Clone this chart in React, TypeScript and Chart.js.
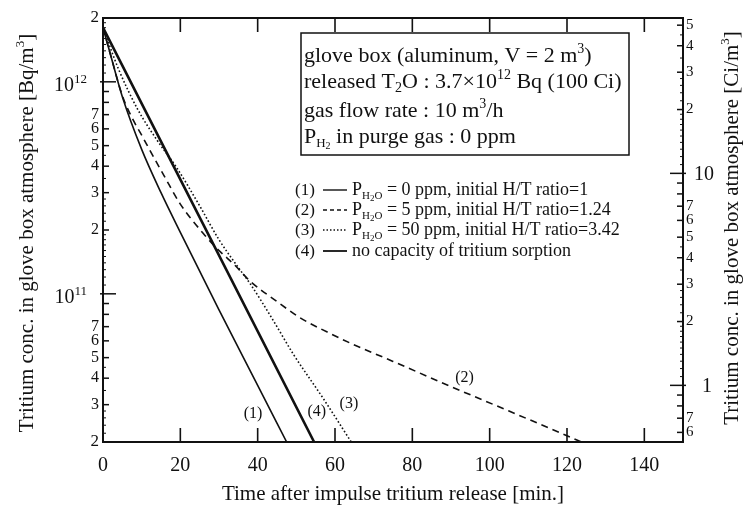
import React, { useEffect, useRef } from 'react';
import { Chart, registerables } from 'chart.js';

Chart.register(...registerables);

const SERIF = '"Liberation Serif", "Times New Roman", serif';
const BQ_PER_CI = 3.7e10;

// (1) P_H2O = 0 ppm
const curve1Time = [0, 2, 5, 10, 15, 20, 30, 40, 47.5];
const curve1Conc = [1.8e12, 1.33e12, 8.5e11, 4.8e11, 3.0e11, 1.95e11, 8.4e10, 3.7e10, 2.0e10];
// (2) P_H2O = 5 ppm
const curve2Time = [0, 2, 5, 8, 10, 12, 16, 20, 26, 30, 34, 38, 45, 51, 58, 64, 75, 90, 105, 115.5, 123.7];
const curve2Conc = [1.8e12, 1.33e12, 8.6e11, 6.5e11, 5.6e11, 4.8e11, 3.55e11, 2.65e11, 1.92e11, 1.6e11, 1.37e11, 1.15e11, 9.2e10, 7.7e10, 6.6e10, 5.85e10, 4.8e10, 3.65e10, 2.8e10, 2.32e10, 2.0e10];
// (3) P_H2O = 50 ppm
const curve3Time = [0, 4, 9, 14, 19, 25, 30, 35, 38, 44, 49.2, 57, 64.2];
const curve3Conc = [1.8e12, 1.15e12, 7.4e11, 5.3e11, 3.95e11, 2.6e11, 1.8e11, 1.33e11, 1.12e11, 7.5e10, 5.2e10, 3.2e10, 2.0e10];
// (4) no capacity of tritium sorption
const curve4Time = [0, 54.6];
const curve4Conc = [1.8e12, 2.0e10];

const xMin = 0;
const xMax = 150;
const yMin = 2e10;
const yMax = 2e12;

const xTickValues = [0, 20, 40, 60, 80, 100, 120, 140];
const leftLabeledTicks = [2e12, 1e12, 7e11, 6e11, 5e11, 4e11, 3e11, 2e11, 1e11, 7e10, 6e10, 5e10, 4e10, 3e10, 2e10];
const rightLabeledTicks = [50, 40, 30, 20, 10, 7, 6, 5, 4, 3, 2, 1, 0.7, 0.6];
const minorMantissas = [1.1, 1.2, 1.3, 1.4, 1.5, 1.6, 1.7, 1.8, 1.9, 2.2, 2.4, 2.6, 2.8, 3.5, 4.5];
const midMantissas = [2, 3, 4, 5, 6, 7, 8, 9];

const curveLabels = ['(1)', '(2)', '(3)', '(4)'];
const curveLabelTime = [38.8, 93.5, 63.6, 55.3];
const curveLabelConc = [2.73e10, 4.0e10, 3.04e10, 2.79e10];

const xTitle = 'Time after impulse tritium release [min.]';
const leftTitle = 'Tritium conc. in glove box atmosphere [Bq/m';
const rightTitle = 'Tritium conc. in glove box atmosphere [Ci/m';

type Run = { t: string; s: number; dy?: number };

const boxLines: Run[][] = [
  [{ t: 'glove box (aluminum, V = 2 m', s: 22 }, { t: '3', s: 14, dy: -9 }, { t: ')', s: 22 }],
  [{ t: 'released T', s: 22 }, { t: '2', s: 14, dy: 4 }, { t: 'O : 3.7×10', s: 22 }, { t: '12', s: 14, dy: -9 }, { t: ' Bq (100 Ci)', s: 22 }],
  [{ t: 'gas flow rate : 10 m', s: 22 }, { t: '3', s: 14, dy: -9 }, { t: '/h', s: 22 }],
  [{ t: 'P', s: 22 }, { t: 'H', s: 13, dy: 4 }, { t: '2', s: 10, dy: 6 }, { t: ' in purge gas : 0 ppm', s: 22 }],
];

const legendNums = ['(1)', '(2)', '(3)', '(4)'];
const legendDash: number[][] = [[], [4, 3], [1.5, 2], []];
const legendWidth = [1.4, 1.4, 1.4, 1.8];
const legendTexts: Run[][] = [
  [{ t: 'P', s: 18 }, { t: 'H', s: 11, dy: 4 }, { t: '2', s: 9, dy: 6 }, { t: 'O', s: 11, dy: 4 }, { t: ' = 0 ppm, initial H/T ratio=1', s: 18 }],
  [{ t: 'P', s: 18 }, { t: 'H', s: 11, dy: 4 }, { t: '2', s: 9, dy: 6 }, { t: 'O', s: 11, dy: 4 }, { t: ' = 5 ppm, initial H/T ratio=1.24', s: 18 }],
  [{ t: 'P', s: 18 }, { t: 'H', s: 11, dy: 4 }, { t: '2', s: 9, dy: 6 }, { t: 'O', s: 11, dy: 4 }, { t: ' = 50 ppm, initial H/T ratio=3.42', s: 18 }],
  [{ t: 'no capacity of tritium sorption', s: 18 }],
];

function drawRuns(ctx: CanvasRenderingContext2D, x: number, y: number, runs: Run[]) {
  let cx = x;
  ctx.textAlign = 'left';
  ctx.textBaseline = 'alphabetic';
  for (const r of runs) {
    ctx.font = `${r.s}px ${SERIF}`;
    ctx.fillText(r.t, cx, y + (r.dy || 0));
    cx += ctx.measureText(r.t).width;
  }
  return cx;
}

function runsWidth(ctx: CanvasRenderingContext2D, runs: Run[]) {
  let w = 0;
  for (const r of runs) {
    ctx.font = `${r.s}px ${SERIF}`;
    w += ctx.measureText(r.t).width;
  }
  return w;
}

const toPoints = (t: number[], v: number[]) => t.map((x, i) => ({ x, y: v[i] }));

const decorPlugin = {
  id: 'decor',
  afterDraw(chart: any) {
    const ctx: CanvasRenderingContext2D = chart.ctx;
    const { left, right, top, bottom } = chart.chartArea;
    const xs = chart.scales.x;
    const ys = chart.scales.y;
    const y2 = chart.scales.y2;
    ctx.save();
    ctx.strokeStyle = '#111';
    ctx.fillStyle = '#111';
    ctx.setLineDash([]);

    // frame
    ctx.lineWidth = 2;
    ctx.strokeRect(left, top, right - left, bottom - top);

    // x ticks & labels
    ctx.lineWidth = 1.6;
    ctx.font = `20px ${SERIF}`;
    ctx.textAlign = 'center';
    ctx.textBaseline = 'alphabetic';
    for (const v of xTickValues) {
      const px = xs.getPixelForValue(v);
      ctx.beginPath();
      ctx.moveTo(px, bottom);
      ctx.lineTo(px, bottom - 14);
      ctx.moveTo(px, top);
      ctx.lineTo(px, top + 14);
      ctx.stroke();
      ctx.fillText(String(v), px, bottom + 29);
    }

    // log ticks helper
    const logTicks = (scale: any, x0: number, dir: number, decades: number[]) => {
      const lo = scale.min;
      const hi = scale.max;
      for (const d of decades) {
        const items: [number, number][] = [[d, 13]];
        for (const m of midMantissas) items.push([m * d, 6]);
        for (const m of minorMantissas) items.push([m * d, 3]);
        for (const [val, len] of items) {
          if (val < lo * 0.999 || val > hi * 1.001) continue;
          const py = scale.getPixelForValue(val);
          ctx.lineWidth = len > 5 ? 1.5 : 1;
          ctx.beginPath();
          ctx.moveTo(x0 - (len > 10 ? 3 * dir : 0), py);
          ctx.lineTo(x0 + dir * len, py);
          ctx.stroke();
        }
      }
    };
    logTicks(ys, left, 1, [1e10, 1e11, 1e12]);
    logTicks(y2, right, -1, [0.1, 1, 10]);

    // left labels
    for (const v of leftLabeledTicks) {
      const py = ys.getPixelForValue(v);
      const exp = Math.floor(Math.log10(v) + 1e-9);
      const mant = Math.round(v / Math.pow(10, exp));
      if (mant === 1) {
        ctx.font = `13px ${SERIF}`;
        const supW = ctx.measureText(String(exp)).width;
        ctx.textAlign = 'right';
        ctx.textBaseline = 'alphabetic';
        ctx.fillText(String(exp), 87, py + 1);
        ctx.font = `20px ${SERIF}`;
        ctx.fillText('10', 87 - supW, py + 9);
      } else {
        ctx.font = `${v === yMax || v === yMin ? 17 : 16}px ${SERIF}`;
        ctx.textAlign = 'right';
        ctx.textBaseline = 'middle';
        ctx.fillText(String(mant), 99, py);
      }
    }

    // right labels
    for (const v of rightLabeledTicks) {
      const py = y2.getPixelForValue(v);
      const exp = Math.floor(Math.log10(v) + 1e-9);
      const mant = Math.round(v / Math.pow(10, exp));
      ctx.textAlign = 'left';
      ctx.textBaseline = 'middle';
      if (mant === 1) {
        ctx.font = `20px ${SERIF}`;
        ctx.fillText(String(v), v >= 10 ? 694 : 702, py + 1);
      } else {
        ctx.font = `15px ${SERIF}`;
        ctx.fillText(String(mant), 686, py);
      }
    }

    // axis titles
    ctx.font = `21px ${SERIF}`;
    ctx.textAlign = 'center';
    ctx.textBaseline = 'alphabetic';
    ctx.fillText(xTitle, (left + right) / 2, 500);

    const drawVTitle = (text: string, cx: number, cy: number) => {
      const runs: Run[] = [{ t: text, s: 21 }, { t: '3', s: 13, dy: -9 }, { t: ']', s: 21 }];
      const w = runsWidth(ctx, runs);
      ctx.save();
      ctx.translate(cx, cy);
      ctx.rotate(-Math.PI / 2);
      drawRuns(ctx, -w / 2, 7, runs);
      ctx.restore();
    };
    drawVTitle(leftTitle, 26, 233);
    drawVTitle(rightTitle, 731, 228);

    // info box
    ctx.lineWidth = 1.5;
    ctx.strokeRect(301, 33, 328, 122);
    const boxBase = [62, 88, 117, 143];
    boxLines.forEach((runs, i) => drawRuns(ctx, 304, boxBase[i], runs));

    // legend rows
    const legBase = [195, 215, 235, 256];
    legendNums.forEach((n, i) => {
      ctx.font = `17px ${SERIF}`;
      ctx.textAlign = 'left';
      ctx.textBaseline = 'alphabetic';
      ctx.fillText(n, 295, legBase[i]);
      ctx.lineWidth = legendWidth[i];
      ctx.setLineDash(legendDash[i]);
      ctx.beginPath();
      ctx.moveTo(323, legBase[i] - 5);
      ctx.lineTo(347, legBase[i] - 5);
      ctx.stroke();
      ctx.setLineDash([]);
      drawRuns(ctx, 352, legBase[i], legendTexts[i]);
    });

    // curve labels
    ctx.font = `16px ${SERIF}`;
    ctx.textAlign = 'center';
    ctx.textBaseline = 'middle';
    curveLabels.forEach((lab, i) => {
      ctx.fillText(lab, xs.getPixelForValue(curveLabelTime[i]), ys.getPixelForValue(curveLabelConc[i]));
    });

    ctx.restore();
  },
};

export default function App() {
  const ref = useRef<HTMLCanvasElement | null>(null);
  useEffect(() => {
    document.body.style.margin = '0';
    const canvas = ref.current;
    if (!canvas) return;
    const base = {
      pointRadius: 0,
      fill: false,
      borderColor: '#111',
      cubicInterpolationMode: 'monotone' as const,
      yAxisID: 'y',
    };
    const chart = new Chart(canvas, {
      type: 'line',
      data: {
        datasets: [
          { ...base, label: '(1)', data: toPoints(curve1Time, curve1Conc), borderWidth: 1.6 },
          { ...base, label: '(2)', data: toPoints(curve2Time, curve2Conc), borderWidth: 1.6, borderDash: [7, 5] },
          { ...base, label: '(3)', data: toPoints(curve3Time, curve3Conc), borderWidth: 1.6, borderDash: [1.6, 2.2] },
          { ...base, label: '(4)', data: toPoints(curve4Time, curve4Conc), borderWidth: 2.6 },
        ],
      },
      options: {
        animation: false,
        responsive: false,
        devicePixelRatio: 1,
        layout: { padding: { left: 103, right: 65, top: 18, bottom: 74 } },
        plugins: { legend: { display: false }, tooltip: { enabled: false } },
        scales: {
          x: { type: 'linear', min: xMin, max: xMax, display: false },
          y: { type: 'logarithmic', min: yMin, max: yMax, display: false },
          y2: { type: 'logarithmic', position: 'right', min: yMin / BQ_PER_CI, max: yMax / BQ_PER_CI, display: false },
        },
      },
      plugins: [decorPlugin],
    } as any);
    return () => chart.destroy();
  }, []);
  return (
    <div style={{ width: 748, height: 516, background: '#fff' }}>
      <canvas ref={ref} width={748} height={516} style={{ display: 'block' }} />
    </div>
  );
}
